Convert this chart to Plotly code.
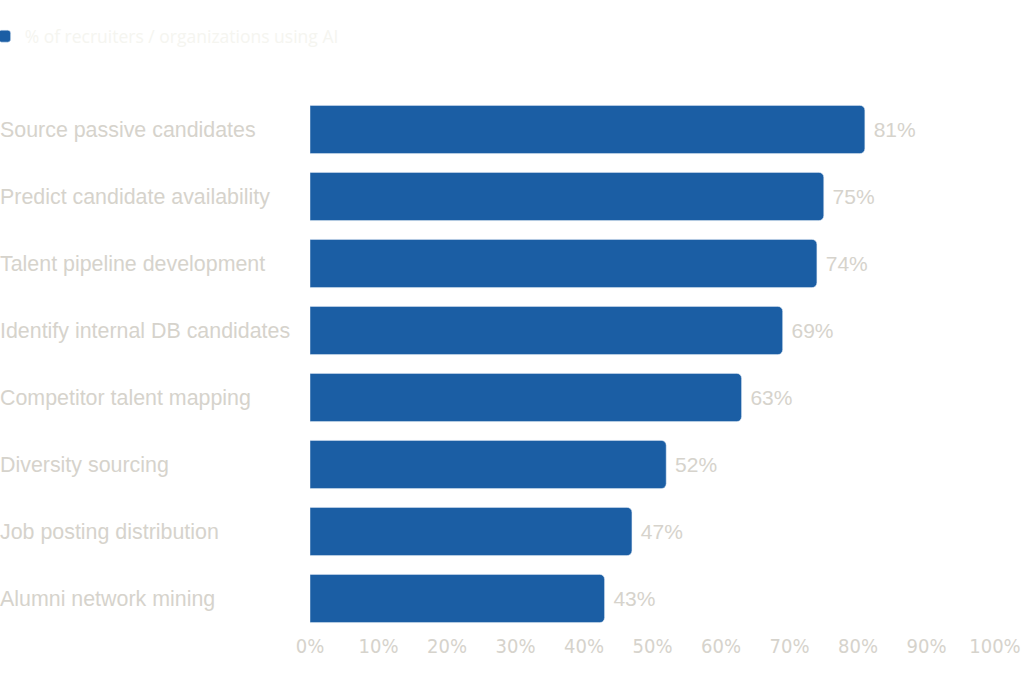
import plotly.graph_objects as go

categories = [
    'Source passive candidates',
    'Predict candidate availability',
    'Talent pipeline development',
    'Identify internal DB candidates',
    'Competitor talent mapping',
    'Diversity sourcing',
    'Job posting distribution',
    'Alumni network mining',
]
values = [81, 75, 74, 69, 63, 52, 47, 43]
tick_vals = [0, 10, 20, 30, 40, 50, 60, 70, 80, 90, 100]
tick_text = [str(v) + '%' for v in tick_vals]
series_name = '% of recruiters / organizations using AI'

label_color = '#d6d3cc'
bar_color = '#1b5ea4'

trace = go.Bar(
    x = values,
    y = categories,
    orientation = 'h',
    name = series_name,
    marker = dict(color = bar_color, cornerradius = 5),
    texttemplate = ' %{x}%',
    textposition = 'outside',
    textfont = dict(family = 'Liberation Sans', size = 21, color = label_color),
    cliponaxis = False,
    showlegend = True,
    hoverinfo = 'skip',
)

# left-aligned category labels
left_px = 310
plot_w = 1024 - 310 - 29
annotations = []
for c in categories:
    annotations.append(dict(
        x = -left_px / plot_w, xref = 'paper', xanchor = 'left', xshift = -2,
        y = c, yref = 'y', yanchor = 'middle',
        text = c, showarrow = False,
        font = dict(family = 'Liberation Sans', size = 21.4, color = label_color),
    ))

layout = go.Layout(
    width = 1024,
    height = 700,
    margin = dict(l = 310, r = 29, t = 96, b = 68, autoexpand = False),
    paper_bgcolor = 'white',
    plot_bgcolor = 'white',
    bargap = 0.28,
    xaxis = dict(
        range = [0, 100],
        tickvals = tick_vals,
        ticktext = tick_text,
        showgrid = False,
        zeroline = False,
        showline = False,
        tickfont = dict(family = 'Liberation Sans Narrow, DejaVu Sans Condensed, Liberation Sans',
                        size = 20, color = label_color),
        fixedrange = True,
    ),
    yaxis = dict(
        categoryorder = 'array',
        categoryarray = categories[::-1],
        showticklabels = False,
        showgrid = False,
        zeroline = False,
        fixedrange = True,
    ),
    legend = dict(
        x = -0.475, xanchor = 'left',
        y = 1.145, yanchor = 'top',
        font = dict(family = 'Open Sans', size = 17.5, color = '#f5f5f0'),
        itemwidth = 30,
    ),
    annotations = annotations,
)

fig = go.Figure(data = [trace], layout = layout)
# drop the default 8px page margin so the figure sits at the window corner
fig.write_html('out.html', config = {'displayModeBar': False},
               post_script = "document.body.style.margin = '0';")
